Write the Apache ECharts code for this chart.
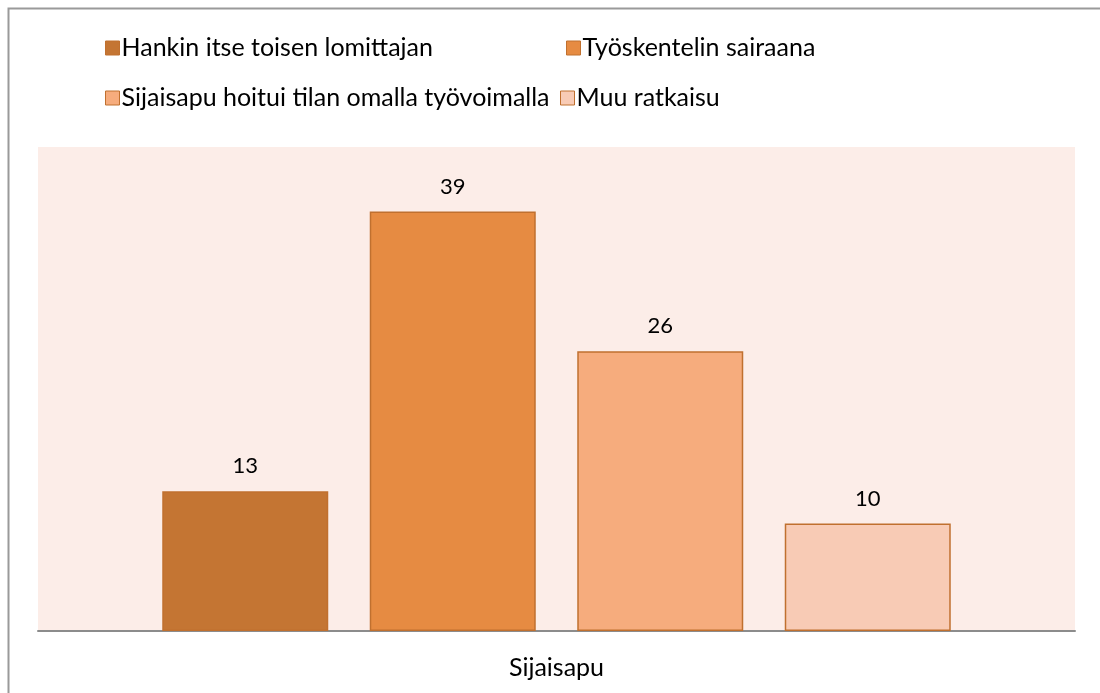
<!DOCTYPE html>
<html>
<head>
<meta charset="utf-8">
<script src="https://cdn.jsdelivr.net/npm/echarts@6/dist/echarts.min.js"></script>
<style>
  html, body { margin: 0; padding: 0; background: #fff; }
  #chart { width: 1100px; height: 693px; }
</style>
</head>
<body>
<div id="chart"></div>
<script>
// data
const categories = ['Sijaisapu'];
const seriesNames = [
  'Hankin itse toisen lomittajan',
  'Työskentelin sairaana',
  'Sijaisapu hoitui tilan omalla työvoimalla',
  'Muu ratkaisu'
];
const seriesValues = [[13], [39], [26], [10]];
const seriesColors = ['#C47533', '#E68B42', '#F6AC7D', '#F8CBB5'];

const FONT = 'Lato';

let myChart = echarts.init(document.getElementById('chart'));

// legend positions (two rows)
const legendPos = [
  { left: 105, top: 35 },
  { left: 566, top: 35 },
  { left: 105, top: 85 },
  { left: 560, top: 85 }
];

const option = {
  backgroundColor: '#fff',
  animation: false,
  graphic: [{
    type: 'rect',
    shape: { x: 8.5, y: 8.5, width: 1110, height: 720 },
    style: { fill: 'none', stroke: '#9a9a9a', lineWidth: 2 },
    silent: true
  }],
  legend: seriesNames.map((n, i) => ({
    data: [n],
    left: legendPos[i].left,
    top: legendPos[i].top,
    padding: 0,
    itemWidth: 14,
    itemHeight: 14,
    itemGap: 0,
    icon: 'rect',
    textStyle: { fontFamily: FONT, fontSize: 25, lineHeight: 26, color: '#000', padding: [0, 0, 0, -3] },
    itemStyle: { borderColor: '#C0702F', borderWidth: 1 }
  })),
  grid: {
    left: 38, right: 25, top: 147, bottom: 62,
    show: true, backgroundColor: '#FCEDE8', borderWidth: 0
  },
  xAxis: {
    type: 'category',
    data: categories,
    axisLine: { lineStyle: { color: '#8c8c8c', width: 2 } },
    axisTick: { show: false },
    axisLabel: { fontFamily: FONT, fontSize: 25, color: '#000', margin: 24 }
  },
  yAxis: {
    type: 'value',
    min: 0, max: 45, interval: 5,
    show: false,
    splitLine: { show: false }
  },
  series: seriesNames.map((n, i) => ({
    name: n,
    type: 'bar',
    data: seriesValues[i],
    barWidth: 166,
    barGap: '25%',
    itemStyle: { color: seriesColors[i], borderColor: '#C0702F', borderWidth: 1.5 },
    label: {
      show: true, position: 'top', distance: 14,
      fontFamily: FONT, fontSize: 22, color: '#000'
    }
  }))
};

myChart.setOption(option);
</script>
</body>
</html>
